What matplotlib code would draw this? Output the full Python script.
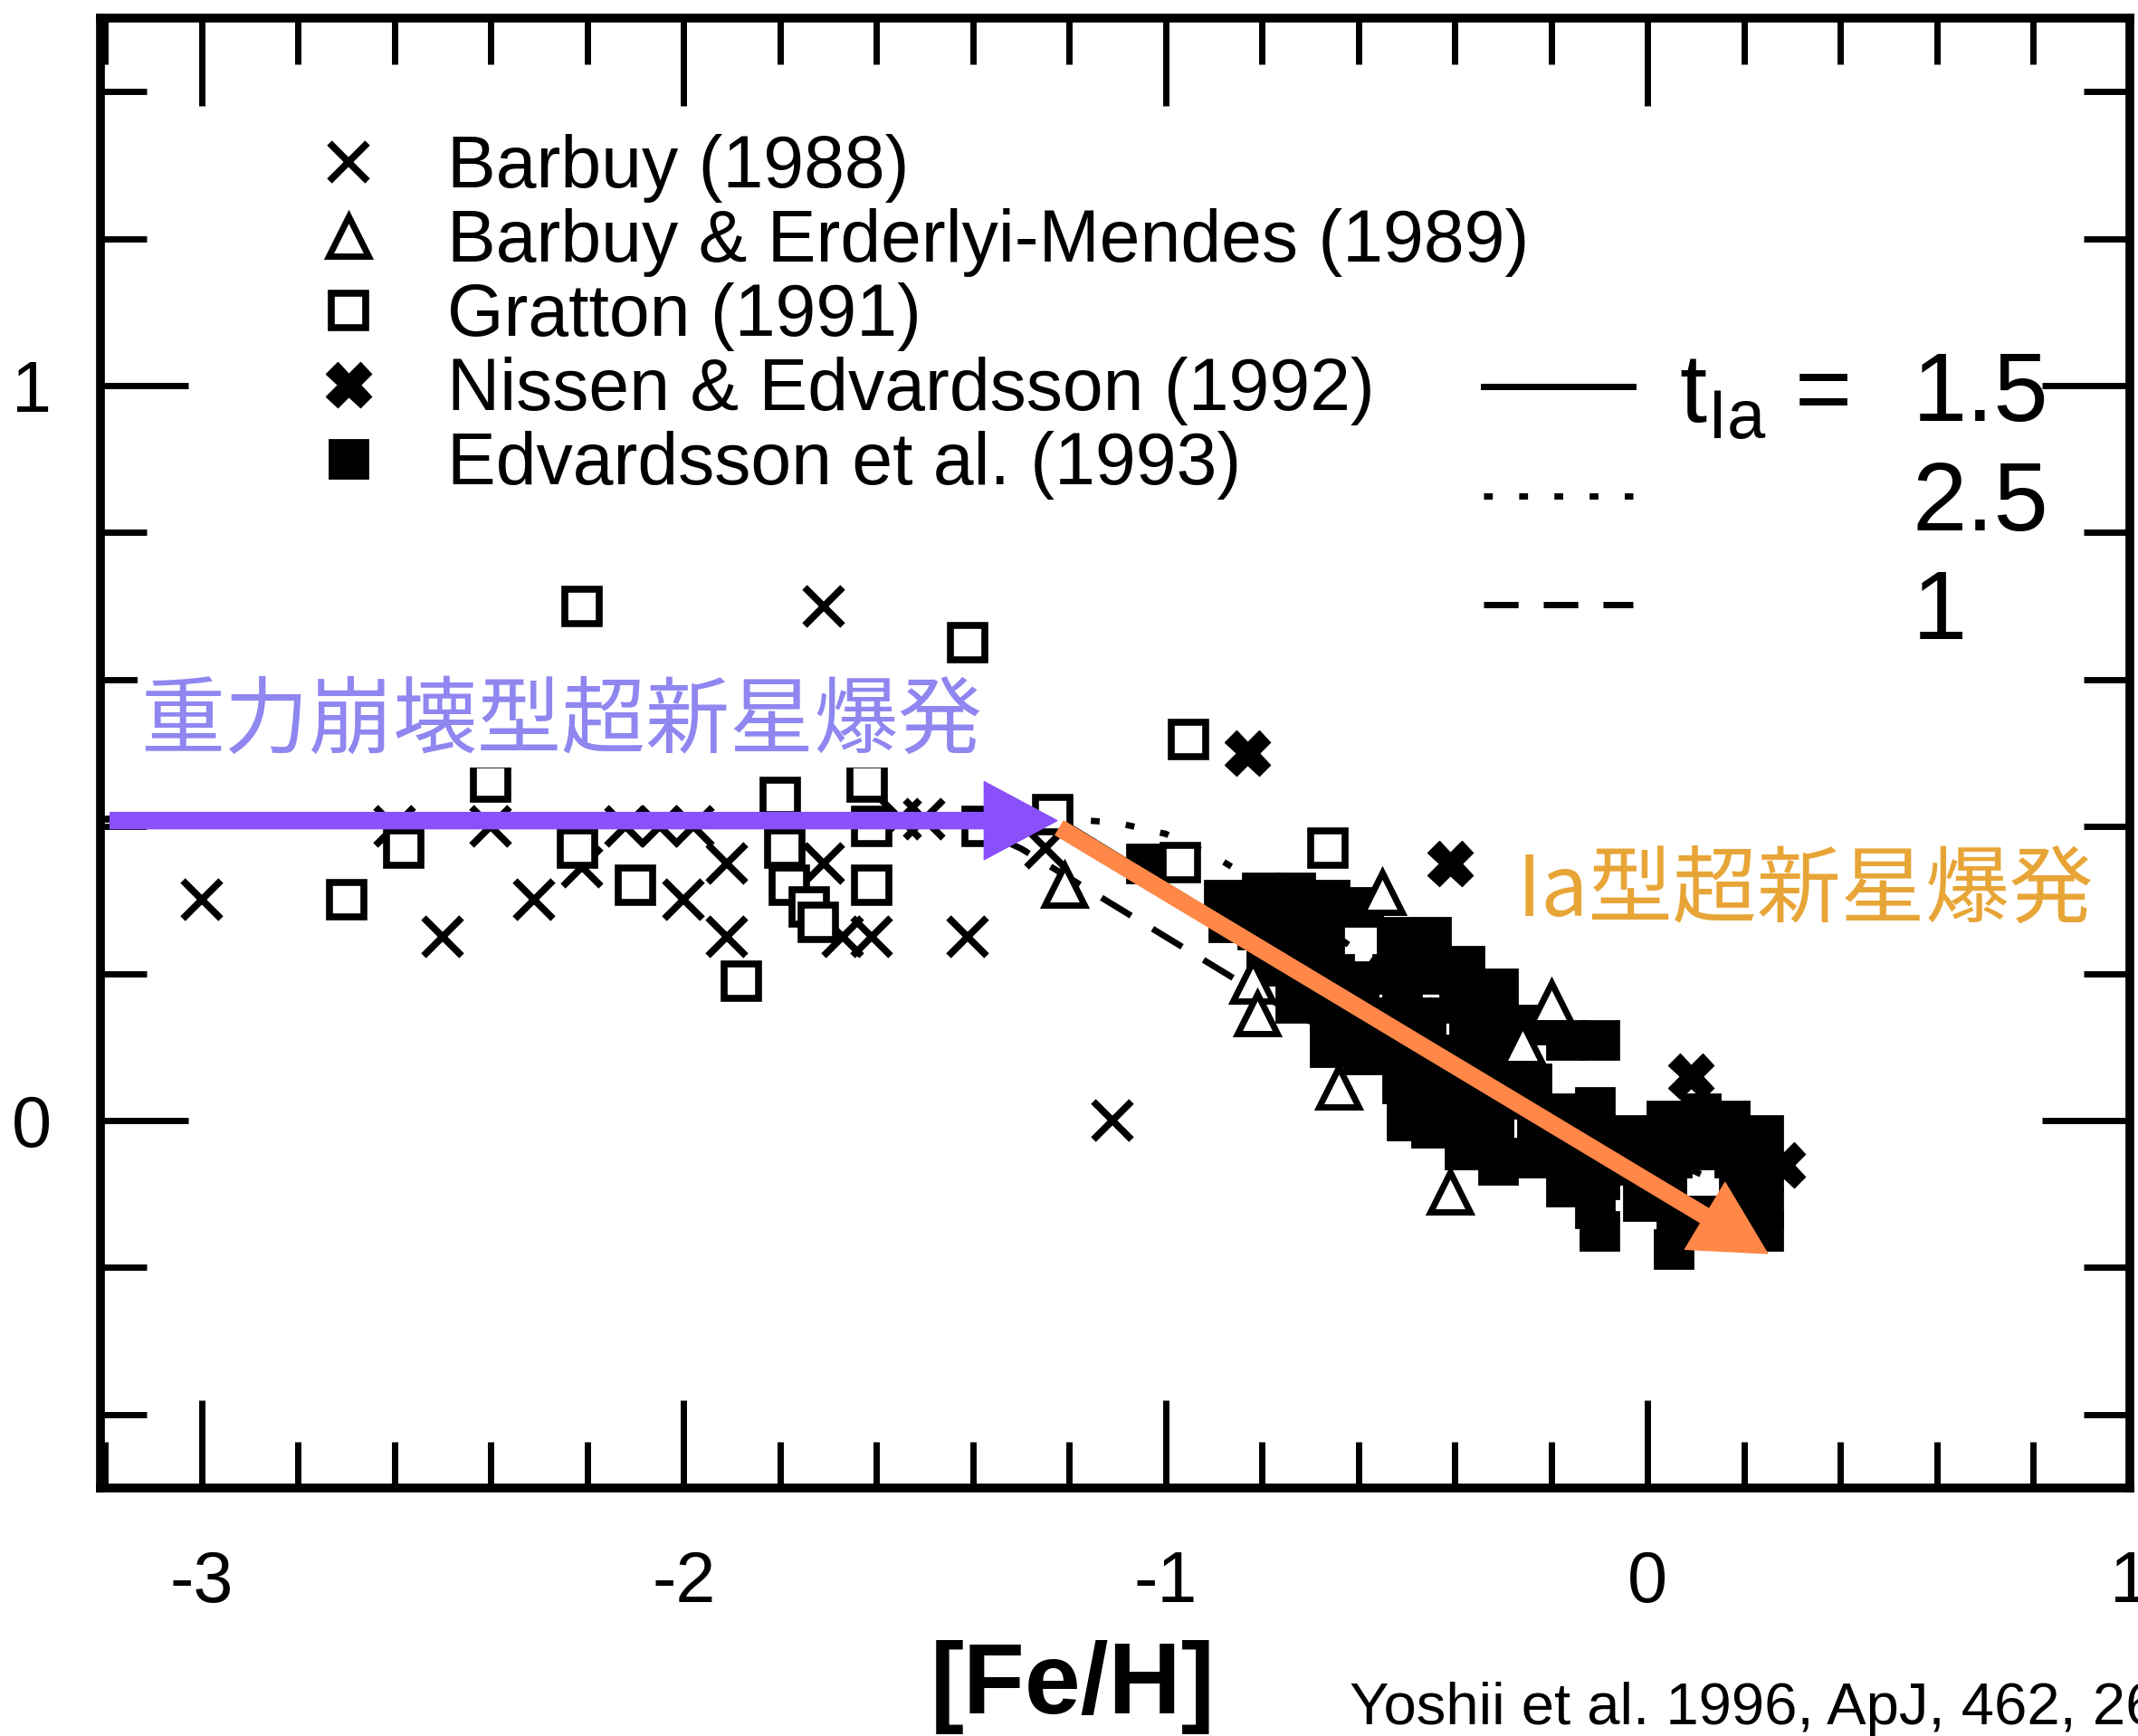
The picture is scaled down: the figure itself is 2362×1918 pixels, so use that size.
import matplotlib
matplotlib.use('Agg')
import matplotlib.pyplot as plt
from matplotlib.ticker import MultipleLocator, FormatStrFormatter
from matplotlib.patches import FancyArrowPatch

plt.rcParams['font.family'] = ['Liberation Sans', 'DejaVu Sans']
plt.rcParams['axes.unicode_minus'] = False
plt.rcParams['mathtext.fontset'] = 'custom'
plt.rcParams['mathtext.rm'] = 'Liberation Sans'

# [Fe/H] and [O/Fe] for each sample
barbuy88_feh = [-3.00, -2.50, -2.31, -2.60, -2.40, -2.12, -2.05, -1.98, -2.00, -1.91,
                -1.91, -1.71, -1.71, -1.67, -1.61, -1.55, -1.50, -1.41, -1.25, -1.11, -2.21]
barbuy88_ofe = [0.30, 0.25, 0.30, 0.40, 0.40, 0.40, 0.40, 0.40, 0.30, 0.35,
                0.25, 0.70, 0.35, 0.25, 0.25, 0.41, 0.41, 0.25, 0.37, 0.00, 0.345]

bem89_feh = [-1.21, -0.82, -0.81, -0.64, -0.55, -0.41, -0.26, -0.20]
bem89_ofe = [0.32, 0.19, 0.145, 0.045, 0.31, -0.098, 0.105, 0.16]

gratton91_feh = [-2.70, -2.58, -2.40, -2.22, -2.21, -2.10, -1.88, -1.80, -1.79, -1.78, -1.74,
                 -1.72, -1.62, -1.61, -1.61, -1.41, -1.38, -1.235, -0.97, -0.953, -0.664]
gratton91_ofe = [0.30, 0.37, 0.46, 0.37, 0.70, 0.32, 0.19, 0.44, 0.37, 0.32, 0.29,
                 0.27, 0.46, 0.32, 0.40, 0.65, 0.40, 0.416, 0.351, 0.518, 0.371]

nissen92_feh = [-0.83, -0.41, 0.09, 0.28]
nissen92_ofe = [0.50, 0.35, 0.06, -0.06]

edv93_feh = [-1.04,
             -0.88, -0.87,
             -0.80, -0.81, -0.79,
             -0.73, -0.74, -0.72, -0.73,
             -0.66, -0.67, -0.65, -0.66, -0.66,
             -0.59, -0.60, -0.58, -0.59,
             -0.52, -0.53, -0.51, -0.52, -0.51, -0.50,
             -0.45, -0.45, -0.46, -0.44, -0.45, -0.45,
             -0.38, -0.39, -0.37, -0.38, -0.37, -0.38,
             -0.31, -0.31, -0.30, -0.31, -0.32, -0.31,
             -0.24, -0.24, -0.23, -0.25,
             -0.17, -0.17, -0.18, -0.17,
             -0.10, -0.11, -0.10, -0.10, -0.11, -0.10,
             -0.03, -0.02, -0.01,
             0.04, 0.05, 0.04, 0.06, 0.055,
             0.11, 0.12, 0.11,
             0.17, 0.18, 0.19,
             0.24, 0.24, 0.24, 0.24]
edv93_ofe = [0.35,
             0.30, 0.27,
             0.31, 0.26, 0.21,
             0.31, 0.26, 0.21, 0.16,
             0.30, 0.25, 0.20, 0.15, 0.10,
             0.29, 0.19, 0.14, 0.09,
             0.25, 0.20, 0.15, 0.10, 0.05, 0.00,
             0.25, 0.20, 0.14, 0.09, 0.04, -0.01,
             0.21, 0.16, 0.11, 0.06, 0.01, -0.04,
             0.18, 0.13, 0.08, 0.03, -0.02, -0.06,
             0.13, 0.05, 0.00, -0.05,
             0.11, 0.01, -0.04, -0.09,
             0.11, 0.018, -0.03, -0.08, -0.12, -0.15,
             -0.02, -0.06, -0.11,
             0.00, -0.05, -0.10, -0.14, -0.175,
             0.01, -0.04, -0.13,
             0.00, -0.05, -0.10,
             -0.02, -0.07, -0.12, -0.15]

# chemical evolution models for three SN Ia lifetimes
model_feh = [-3.2, -1.6, -1.4, -1.3, -1.2, -1.1, -1.0, -0.9, -0.8, -0.6, -0.4, -0.2, 0.0, 0.2]
model_t15 = [0.41, 0.41, 0.41, 0.41, 0.40, 0.36, 0.32, 0.28, 0.24, 0.16, 0.08, 0.00, -0.08, -0.16]
model_t25 = [0.41, 0.41, 0.41, 0.41, 0.41, 0.405, 0.39, 0.36, 0.32, 0.23, 0.14, 0.03, -0.04, -0.10]
model_t1 = [0.41, 0.41, 0.40, 0.37, 0.33, 0.29, 0.25, 0.21, 0.17, 0.10, 0.03, -0.03, -0.09, -0.14]
tia_labels = ['1.5', '2.5', '1']

fig = plt.figure(figsize=(23.62, 19.18), dpi=100)
ax = fig.add_axes([0.047, 0.1429, 0.949, 0.8467])

l15, = ax.plot(model_feh, model_t15, color='k', lw=5, ls='-', zorder=1)
l25, = ax.plot(model_feh, model_t25, color='k', lw=5, ls=(0, (1.4, 4.2)), zorder=1)
l1, = ax.plot(model_feh, model_t1, color='k', lw=5, ls=(0, (5.5, 4)), zorder=1)

h5, = ax.plot(edv93_feh, edv93_ofe, ls='none', marker='s', ms=30, mew=2,
              mfc='k', mec='k', zorder=2, label='Edvardsson et al. (1993)')
h1, = ax.plot(barbuy88_feh, barbuy88_ofe, ls='none', marker='x', ms=30, mew=5.5,
              color='k', zorder=3, label='Barbuy (1988)')
h2, = ax.plot(bem89_feh, bem89_ofe, ls='none', marker='^', ms=31, mew=5,
              mfc='white', mec='k', zorder=3, label='Barbuy & Erderlyi-Mendes (1989)')
h3, = ax.plot(gratton91_feh, gratton91_ofe, ls='none', marker='s', ms=28, mew=5.5,
              mfc='white', mec='k', zorder=3, label='Gratton (1991)')
h4, = ax.plot(nissen92_feh, nissen92_ofe, ls='none', marker='X', ms=36, mew=1,
              mfc='k', mec='k', zorder=3, label='Nissen & Edvardsson (1992)')

ax.set_xlim(-3.21, 1.0)
ax.set_ylim(-0.5, 1.5)
ax.xaxis.set_major_locator(MultipleLocator(1))
ax.xaxis.set_minor_locator(MultipleLocator(0.2))
ax.yaxis.set_major_locator(MultipleLocator(1))
ax.yaxis.set_minor_locator(MultipleLocator(0.2))
ax.xaxis.set_major_formatter(FormatStrFormatter('%d'))
ax.yaxis.set_major_formatter(FormatStrFormatter('%d'))
ax.tick_params(which='both', direction='in', top=True, right=True, width=5, color='k')
ax.tick_params(which='major', length=70)
ax.tick_params(which='minor', length=37)
ax.tick_params(axis='x', labelsize=57, pad=49)
ax.tick_params(axis='y', labelsize=57, pad=39)
for sp in ax.spines.values():
    sp.set_linewidth(7)

ax.set_xlabel('[Fe/H]', fontsize=80, fontweight='bold')
ax.xaxis.set_label_coords(0.479, -0.1035)

leg1 = ax.legend(handles=[h1, h2, h3, h4, h5], loc='upper left', bbox_to_anchor=(0.1042, 0.921),
                 frameon=False, fontsize=58, handlelength=1.0, handletextpad=0.85,
                 labelspacing=0.075, borderpad=0, borderaxespad=0, numpoints=1)
ax.add_artist(leg1)
ax.legend(handles=[l15, l25, l1], labels=tia_labels, loc='upper left',
          bbox_to_anchor=(0.6817, 0.774), frameon=False, fontsize=78,
          handlelength=1.52, handletextpad=2.85, labelspacing=0.19,
          borderpad=0, borderaxespad=0)
ax.text(0.778, 0.7248, r'$\mathrm{t}_{\mathrm{Ia}}$ =', fontsize=78, transform=ax.transAxes,
        ha='left', va='baseline')

# annotations
ax.text(-3.128, 0.542, '重力崩壊型超新星爆発', fontsize=67, color='#8F86F0',
        family=['Noto Sans CJK JP'], ha='left', va='center', zorder=5,
        bbox=dict(facecolor='white', edgecolor='none', pad=2))
ax.text(-0.271, 0.31, 'Ia型超新星爆発', fontsize=67, color='#E8A537',
        family=['Noto Sans CJK JP'], ha='left', va='center', zorder=5)

style = 'simple,head_length=58,head_width=62,tail_width=13'
ax.add_patch(FancyArrowPatch((-3.19, 0.408), (-1.225, 0.408), arrowstyle=style,
                             mutation_scale=1, color='#8A50FA', shrinkA=0, shrinkB=0, zorder=6))
ax.add_patch(FancyArrowPatch((-1.22, 0.398), (0.249, -0.181), arrowstyle=style,
                             mutation_scale=1, color='#FF8848', shrinkA=0, shrinkB=0, zorder=6))

fig.text(1491 / 2362, 0.0068, 'Yoshii et al. 1996, ApJ, 462, 266', fontsize=47,
         ha='left', va='baseline')

fig.savefig('out.png', dpi=100)
